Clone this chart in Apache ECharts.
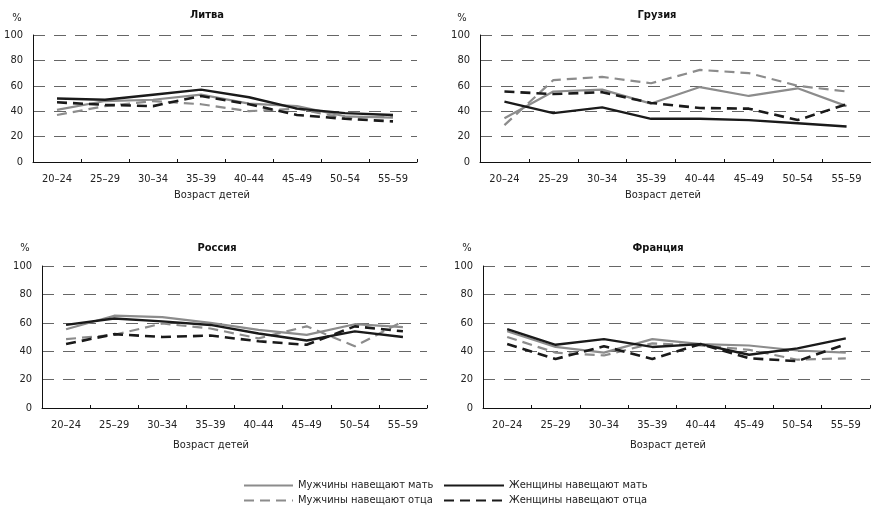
<!DOCTYPE html>
<html>
<head>
<meta charset="utf-8">
<script src="https://cdn.jsdelivr.net/npm/echarts@6/dist/echarts.min.js"></script>
<style>html,body{margin:0;padding:0;background:#fff;}#c{width:871px;height:526px;}</style>
</head>
<body>
<div id="c"></div>
<script>
const categories = ['20–24','25–29','30–34','35–39','40–44','45–49','50–54','55–59'];
const yTicks = [0, 20, 40, 60, 80, 100];
const countries = ['Литва', 'Грузия', 'Россия', 'Франция'];
const seriesNames = ['Мужчины навещают мать', 'Женщины навещают мать', 'Мужчины навещают отца', 'Женщины навещают отца'];
const xAxisName = 'Возраст детей';

// Литва
const ltMenMother   = [41, 48, 49, 53, 46, 44, 36, 35];
const ltWomenMother = [50, 49, 53, 57, 51, 42, 38.5, 37];
const ltMenFather   = [37, 44, 48, 45.5, 40, 42, 34.5, 36];
const ltWomenFather = [47, 45, 44, 52, 45.5, 37, 34, 32];
// Грузия
const geMenMother   = [34.5, 55.5, 57, 46, 59, 52, 58, 44];
const geWomenMother = [47.5, 38.5, 43, 34, 34, 33, 30.5, 28];
const geMenFather   = [29, 64.5, 67, 62, 72.5, 70, 60, 55.5];
const geWomenFather = [55.5, 53.5, 55, 46.5, 42.5, 42, 33, 45.5];
// Россия
const ruMenMother   = [55.5, 65, 64, 60, 55, 51.5, 59, 57];
const ruWomenMother = [58.5, 63, 61, 58.5, 52.5, 47.5, 54, 50];
const ruMenFather   = [48.5, 51.5, 59.5, 56, 49, 57.5, 43.5, 61];
const ruWomenFather = [45, 52, 50, 51, 47, 44.5, 57.5, 54];
// Франция
const frMenMother   = [54, 43, 39, 48.5, 45, 44, 40.5, 39];
const frWomenMother = [55.5, 44.5, 48.5, 43, 45, 37.5, 42, 49];
const frMenFather   = [50, 39, 37, 45.5, 44, 41, 34, 35];
const frWomenFather = [45, 34.5, 43.5, 34.5, 45, 35, 33, 45];

const panelData = [
  [ltMenMother, ltWomenMother, ltMenFather, ltWomenFather],
  [geMenMother, geWomenMother, geMenFather, geWomenFather],
  [ruMenMother, ruWomenMother, ruMenFather, ruWomenFather],
  [frMenMother, frWomenMother, frMenFather, frWomenFather]
];

const FONT = '"Liberation Sans Narrow", "DejaVu Sans Condensed", "Roboto Condensed", "Liberation Sans", sans-serif';
const GRAY = '#8c8c8c', BLACK = '#1a1a1a';
const seriesStyles = [
  {color: GRAY, width: 2.2, type: 'solid'},
  {color: BLACK, width: 2.4, type: 'solid'},
  {color: GRAY, width: 2.2, type: [10, 6]},
  {color: BLACK, width: 2.6, type: [10, 6]}
];

const grids = [
  {left: 33, top: 35, width: 384, height: 127},
  {left: 480, top: 35, width: 391, height: 127},
  {left: 42, top: 266, width: 385, height: 142},
  {left: 483, top: 266, width: 387, height: 142}
];
const titlePos = [[207, 15], [657, 15], [217, 248], [658, 248]];
const pctPos = [[17, 18], [462, 18], [25, 248], [467, 248]];
const namePos = [[212, 195], [663, 195], [211, 445], [668, 445]];

const xAxes = [], yAxes = [], series = [], graphics = [];
grids.forEach((g, i) => {
  xAxes.push({
    type: 'category', gridIndex: i, data: categories, boundaryGap: true,
    axisLine: {show: true, lineStyle: {color: '#111', width: 1}},
    axisTick: {show: true, inside: true, length: 3, lineStyle: {color: '#111'}},
    axisLabel: {color: '#222', fontSize: 11, fontFamily: FONT, margin: 12},
    splitLine: {show: false}
  });
  yAxes.push({
    type: 'value', gridIndex: i, min: yTicks[0], max: yTicks[yTicks.length - 1], interval: 20,
    axisLine: {show: true, lineStyle: {color: '#111', width: 1}},
    axisTick: {show: false},
    axisLabel: {color: '#222', fontSize: 11, fontFamily: FONT, margin: 10},
    splitLine: {show: true, lineStyle: {color: '#666', width: 1, type: [12, 9]}}
  });
  panelData[i].forEach((vals, k) => {
    const st = seriesStyles[k];
    series.push({
      type: 'line', name: seriesNames[k], xAxisIndex: i, yAxisIndex: i,
      data: vals, symbol: 'none', showSymbol: false, smooth: false,
      z: k === 1 || k === 3 ? 3 : 2,
      lineStyle: {color: st.color, width: st.width, type: st.type},
      itemStyle: {color: st.color},
      emphasis: {disabled: true}
    });
  });
  graphics.push({type: 'text', x: titlePos[i][0], y: titlePos[i][1],
    style: {text: countries[i], font: 'bold 11px ' + FONT, fill: '#111', textAlign: 'center', textVerticalAlign: 'middle'}});
  graphics.push({type: 'text', x: pctPos[i][0], y: pctPos[i][1],
    style: {text: '%', font: '11px ' + FONT, fill: '#222', textAlign: 'center', textVerticalAlign: 'middle'}});
  graphics.push({type: 'text', x: namePos[i][0], y: namePos[i][1],
    style: {text: xAxisName, font: '11px ' + FONT, fill: '#222', textAlign: 'center', textVerticalAlign: 'middle'}});
});

const legendPos = [[238, 475, 49], [438, 475, 60], [238, 490, 49], [438, 490, 60]];
const legends = seriesNames.map((n, k) => ({
  data: [n], left: legendPos[k][0], top: legendPos[k][1],
  itemWidth: legendPos[k][2], itemHeight: 14, selectedMode: false,
  itemStyle: {opacity: 0},
  textStyle: {color: '#222', fontSize: 11, fontFamily: FONT}
}));

const chart = echarts.init(document.getElementById('c'), null, {renderer: 'canvas'});
chart.setOption({
  animation: false,
  backgroundColor: '#fff',
  grid: grids,
  xAxis: xAxes,
  yAxis: yAxes,
  series: series,
  legend: legends,
  graphic: graphics
});
</script>
</body>
</html>
